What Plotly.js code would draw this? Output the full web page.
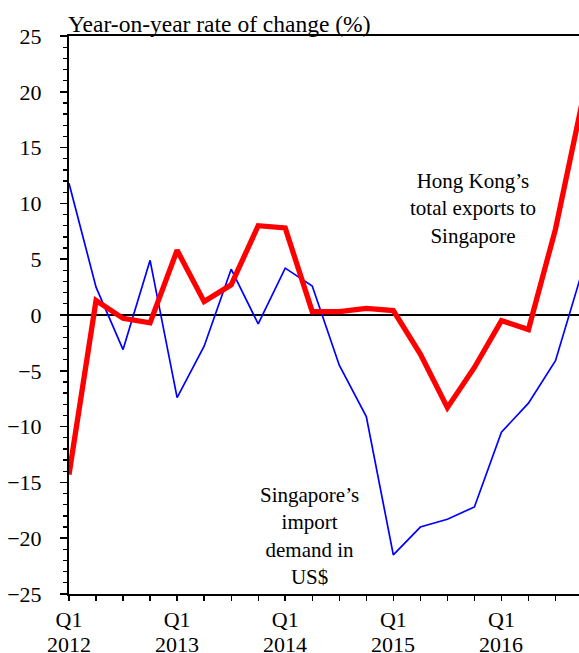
<!DOCTYPE html>
<html>
<head>
<meta charset="utf-8">
<script src="https://cdn.plot.ly/plotly-3.0.1.min.js"></script>
<style>html,body{margin:0;padding:0;background:#fff;}#chart{width:579px;height:653px;}</style>
</head>
<body>
<div id="chart"></div>
<script>
// Quarters Q1 2012 .. Q4 2016
var quarters = ["2012 Q1","2012 Q2","2012 Q3","2012 Q4",
                "2013 Q1","2013 Q2","2013 Q3","2013 Q4",
                "2014 Q1","2014 Q2","2014 Q3","2014 Q4",
                "2015 Q1","2015 Q2","2015 Q3","2015 Q4",
                "2016 Q1","2016 Q2","2016 Q3","2016 Q4"];
// Singapore's import demand in US$ (yoy %)
var sgImports = [11.8, 2.5, -3.1, 4.9, -7.4, -2.8, 4.1, -0.8, 4.2, 2.6, -4.5, -9.1,
                 -21.5, -19.0, -18.3, -17.2, -10.5, -7.9, -4.1, 4.0];
// Hong Kong's total exports to Singapore (yoy %)
var hkExports = [-14.3, 1.3, -0.3, -0.7, 5.8, 1.2, 2.7, 8.0, 7.8, 0.3, 0.3, 0.6,
                 0.4, -3.5, -8.3, -4.7, -0.5, -1.3, 7.7, 19.2];
// X tick labels (placed at Q1 of each year)
var tickIdx = [0, 4, 8, 12, 16];
var tickQuarter = ["Q1", "Q1", "Q1", "Q1", "Q1"];
var tickYear = ["2012", "2013", "2014", "2015", "2016"];
var yTicks = [-25, -20, -15, -10, -5, 0, 5, 10, 15, 20, 25];

var xIdx = quarters.map(function(q, i){ return i; });
var FONT = "Liberation Serif";
var xRange = [0, 18.87];

var traces = [
  {x: xIdx, y: sgImports, type: "scatter", mode: "lines", name: "Singapore's import demand",
   line: {color: "#0000FF", width: 1.7}, hoverinfo: "skip"},
  {x: xIdx, y: hkExports, type: "scatter", mode: "lines", name: "Hong Kong's total exports",
   line: {color: "#FF0000", width: 5.3}, hoverinfo: "skip"}
];

var annotations = [
  {text: "Year-on-year rate of change (%)", xref: "paper", yref: "paper", x: 0, y: 1,
   xanchor: "left", yanchor: "bottom", showarrow: false, xshift: -3, yshift: -3,
   font: {family: FONT, size: 23.5, color: "#000"}},
  {text: "Hong Kong’s<br>total exports to<br>Singapore", xref: "paper", yref: "paper",
   x: 0.792, y: 0.690, xanchor: "center", yanchor: "middle", showarrow: false, align: "center",
   font: {family: FONT, size: 21, color: "#000"}},
  {text: "Singapore’s<br>import<br>demand in<br>US$", xref: "paper", yref: "paper",
   x: 0.471, y: 0.104, xanchor: "center", yanchor: "middle", showarrow: false, align: "center",
   font: {family: FONT, size: 21, color: "#000"}}
];
tickIdx.forEach(function(v, i){
  annotations.push({text: tickYear[i], xref: "x", yref: "paper", x: v, y: 0,
    xanchor: "center", yanchor: "middle", yshift: -50.5, showarrow: false,
    font: {family: FONT, size: 22, color: "#000"}});
});

var layout = {
  width: 579, height: 653,
  margin: {l: 69, r: 0, t: 36, b: 59, pad: 0},
  paper_bgcolor: "#fff", plot_bgcolor: "#fff",
  showlegend: false,
  font: {family: FONT, size: 22, color: "#000"},
  xaxis: {
    range: xRange, tickmode: "array", tickvals: tickIdx, ticktext: tickQuarter,
    showgrid: false, zeroline: false,
    showline: true, linecolor: "#000", linewidth: 2, mirror: true,
    ticks: "outside", ticklen: 5, tickwidth: 1.5, tickcolor: "#000",
    minor: {tickmode: "linear", tick0: 0, dtick: 1, ticks: "outside", ticklen: 5, tickwidth: 1.3, tickcolor: "#000"},
    tickfont: {family: FONT, size: 22, color: "#000"},
    ticklabelstandoff: 0,
    fixedrange: true
  },
  xaxis2: {
    overlaying: "x", anchor: "y", range: xRange, tickmode: "array", tickvals: tickIdx,
    showticklabels: false, showgrid: false, zeroline: false, showline: false,
    ticks: "inside", ticklen: 5, tickwidth: 1.5, tickcolor: "#000", side: "bottom",
    fixedrange: true
  },
  yaxis: {
    range: [-25, 25], tickmode: "array", tickvals: yTicks,
    showgrid: false, zeroline: true, zerolinecolor: "#000", zerolinewidth: 1.4,
    showline: true, linecolor: "#000", linewidth: 2,
    ticks: "outside", ticklen: 7, tickwidth: 1.5, tickcolor: "#000",
    minor: {tickmode: "linear", tick0: 0, dtick: 1, ticks: "outside", ticklen: 4.5, tickwidth: 1.3, tickcolor: "#000"},
    tickfont: {family: FONT, size: 22, color: "#000"},
    ticklabelstandoff: 14,
    fixedrange: true
  },
  annotations: annotations
};

Plotly.newPlot("chart", traces, layout, {staticPlot: true, displayModeBar: false});
</script>
</body>
</html>
